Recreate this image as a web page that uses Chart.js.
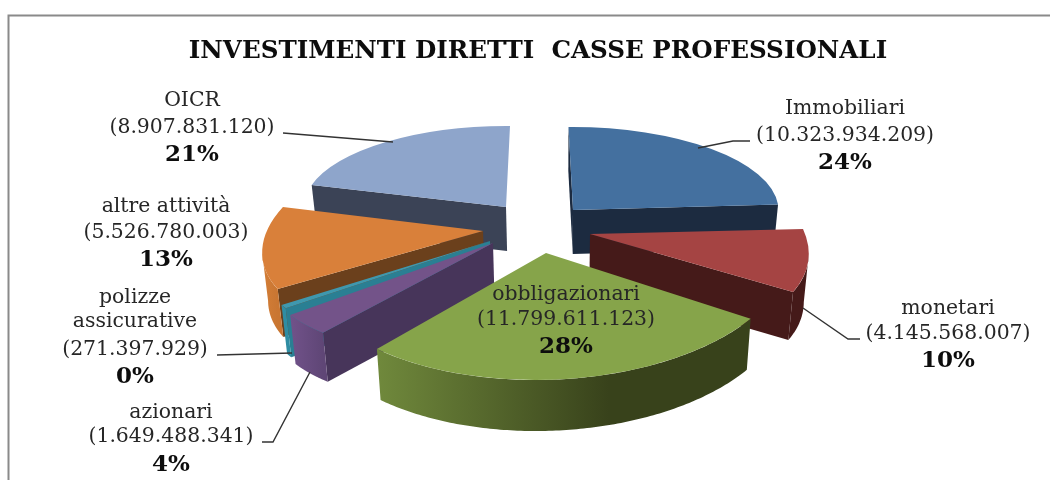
<!DOCTYPE html>
<html><head><meta charset="utf-8">
<style>html,body{margin:0;padding:0;background:#fff;overflow:hidden}canvas{display:block}</style>
<script src="https://cdn.jsdelivr.net/npm/chart.js@4"></script>
</head><body><canvas id="c" width="1050" height="480"></canvas>
<script>
const titleText = "INVESTIMENTI DIRETTI  CASSE PROFESSIONALI";
const categories = ["Immobiliari","monetari","obbligazionari","azionari","polizze assicurative","altre attività","OICR"];
const values = [10323934209,4145568007,11799611123,1649488341,271397929,5526780003,8907831120];
const percents = ["24%","10%","28%","4%","0%","13%","21%"];
const nameLines = [["Immobiliari"],["monetari"],["obbligazionari"],["azionari"],["polizze","assicurative"],["altre attività"],["OICR"]];

const topColors = ["#44709f","#a54443","#86a44a","#735389","#3f98ae","#d9803a","#8ea5cb"];
const edgeColors = ["#1c2b40","#451a19","#38421b","#47355a","#2a7f93","#6b401c","#3b4356"];
const rimColors = [["#1c2b40","#1c2b40"],["#451a19","#451a19"],["#70893c","#38421b"],["#71528a","#5f4676"],["#2f8da3","#2f8da3"],["#d47e37","#c97632"],["#3b4356","#3b4356"]];
const rimStops = [[0,1],[0,1],[0,0.62],[0,1],[0,1],[0,1],[0,1]];
const hiddenEndEdge = [6];

// per-slice 3D projection (disc -> screen), fitted for the exploded perspective look
const projection = [
 {cx:573,cy:210,a:205.5,b:-1.4,c:4.5,d:83,dy:44},
 {cx:590,cy:234,a:215.2,b:0.3,c:39.3,d:108.4,dy:48},
 {cx:546,cy:253,a:246,b:-2.2,c:-6.6,d:127,dy:51},
 {cx:493,cy:243,a:230.5,b:-13.2,c:-21.7,d:108.7,dy:49},
 {cx:490,cy:241,a:230,b:-8,c:-25,d:108,dy:49},
 {cx:483,cy:231,a:217.3,b:-2.9,c:-39.5,d:105.1,dy:48},
 {cx:506,cy:207,a:202,b:1.3,c:-4,d:81,dy:44}
];
const drawOrder = [6,0,1,5,4,3,2];
const vanishX = 560, shrink = 0.98;

const labelPos = [
 {x:845,y:[109,136,163]},
 {x:948,y:[309,334,361]},
 {x:566,y:[295,320,347]},
 {x:171,y:[413,437,465]},
 {x:135,y:[298,322,350,377]},
 {x:166,y:[207,233,260]},
 {x:192,y:[101,128,155]}
];
const leaders = [
 [[750,141],[733,141],[698,148]],
 [[860,339],[848,339],[803,308]],
 null,
 [[262,442],[273,442],[310,372]],
 [[217,355],[292,353]],
 null,
 [[283,133],[393,142]]
];
const fmt = v => "(" + String(v).replace(/\B(?=(\d{3})+$)/g,".") + ")";

const pie3d = {
 id:"pie3d",
 beforeDraw(chart){
  const g=chart.ctx; g.save();
  g.strokeStyle="#8a8a8a"; g.lineWidth=2;
  g.beginPath(); g.moveTo(1050,15.5); g.lineTo(8.5,15.5); g.lineTo(8.5,480); g.stroke();
  g.restore();
 },
 beforeDatasetDraw(chart,args){
  const g=chart.ctx, arcs=args.meta.data;
  const HP=Math.PI/2;
  drawOrder.forEach(i=>{
   const arc=arcs[i], p=projection[i], R=arc.outerRadius;
   const t0=arc.startAngle+HP, t1=arc.endAngle+HP;
   const P=t=>{const u=Math.sin(t),v=-Math.cos(t);return [p.cx+p.a*u+p.c*v,p.cy+p.b*u+p.d*v];};
   const D=q=>[vanishX+(q[0]-vanishX)*shrink,q[1]+p.dy];
   const A=[p.cx,p.cy];
   const M=P((t0+t1)/2);
   [t0,t1].forEach((t,e)=>{
    if(e===1 && hiddenEndEdge.includes(i)) return;
    const B=P(t); let dx=B[0]-A[0],dy=B[1]-A[1];
    if(dx<0){dx=-dx;dy=-dy;}
    if(dx*(M[1]-A[1])-dy*(M[0]-A[0])<0){
     const a2=D(A),b2=D(B);
     g.fillStyle=edgeColors[i];
     g.beginPath();g.moveTo(A[0],A[1]);g.lineTo(B[0],B[1]);g.lineTo(b2[0],b2[1]);g.lineTo(a2[0],a2[1]);g.closePath();g.fill();
    }
   });
   // outer wall: only the part of the rim that faces the viewer
   const top=[],n=120;
   for(let k=0;k<=n;k++){
    const t=t0+(t1-t0)*k/n;
    if(p.a*Math.cos(t)+p.c*Math.sin(t)<=0 && t>HP*0.5) top.push(P(t));
   }
   if(top.length>1){
    const xs=top.map(q=>q[0]);
    const gr=g.createLinearGradient(Math.min(...xs),0,Math.max(...xs),0);
    gr.addColorStop(rimStops[i][0],rimColors[i][0]);
    gr.addColorStop(rimStops[i][1],rimColors[i][1]);
    g.fillStyle=gr;
    g.beginPath();
    top.forEach((q,k)=>k?g.lineTo(q[0],q[1]):g.moveTo(q[0],q[1]));
    top.slice().reverse().forEach(q=>{const d=D(q);g.lineTo(d[0],d[1]);});
    g.closePath();g.fill();
   }
   g.save();
   g.transform(p.a/R,p.b/R,p.c/R,p.d/R,p.cx,p.cy);
   g.translate(-arc.x,-arc.y);
   arc.draw(g);
   g.restore();
  });
  return false;
 },
 afterDraw(chart){
  const g=chart.ctx; g.save();
  g.strokeStyle="#333"; g.lineWidth=1.4;
  leaders.forEach(l=>{ if(!l) return;
   g.beginPath(); l.forEach((q,k)=>k?g.lineTo(q[0],q[1]):g.moveTo(q[0],q[1])); g.stroke();
  });
  g.textAlign="center"; g.textBaseline="middle";
  categories.forEach((c,i)=>{
   const lines=[...nameLines[i],fmt(values[i])], lp=labelPos[i];
   g.fillStyle="#262626"; g.font='20.4px "DejaVu Serif"';
   lines.forEach((s,k)=>g.fillText(s,lp.x,lp.y[k]));
   g.fillStyle="#0d0d0d"; g.font='bold 23px "DejaVu Serif"';
   g.fillText(percents[i],lp.x,lp.y[lines.length]);
  });
  g.restore();
 }
};

new Chart(document.getElementById("c"),{
 type:"pie",
 data:{labels:categories,datasets:[{data:values,backgroundColor:topColors,borderWidth:0}]},
 plugins:[pie3d],
 options:{responsive:false,animation:false,
  layout:{padding:{left:26,top:37}},
  plugins:{legend:{display:false},tooltip:{enabled:false},
   title:{display:true,text:titleText,color:"#0d0d0d",font:{family:'"DejaVu Serif"',size:24.6,weight:"bold"},padding:{top:0,bottom:10}}}}
});
</script></body></html>
